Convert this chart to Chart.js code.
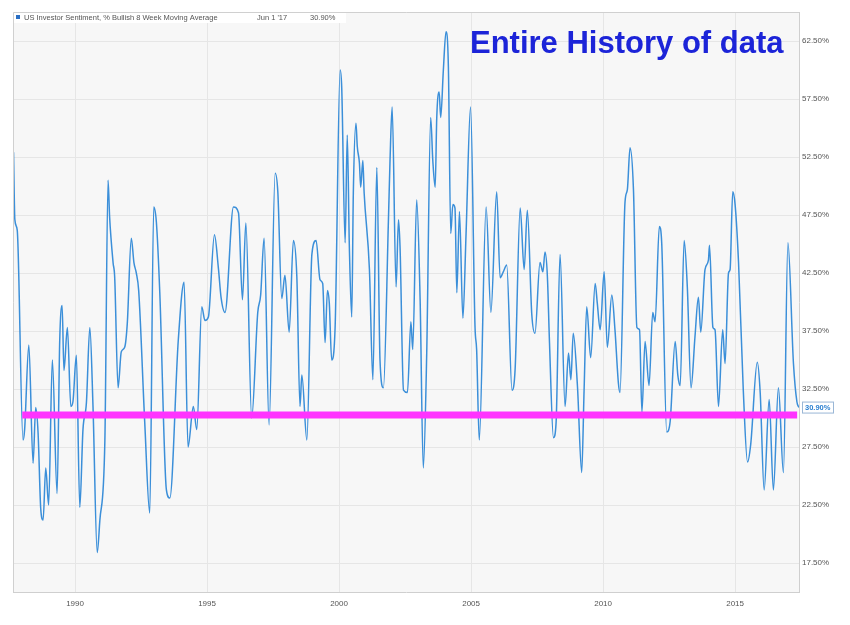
<!DOCTYPE html>
<html>
<head>
<meta charset="utf-8">
<script src="https://cdn.jsdelivr.net/npm/chart.js@4.4.1/dist/chart.umd.min.js"></script>
<style>
  html, body { margin: 0; padding: 0; background: #fff; }
  #wrap { width: 850px; height: 625px; }
</style>
</head>
<body>
<div id="wrap"><canvas id="chart" width="850" height="625"></canvas></div>
<script>
const seriesName = "US Investor Sentiment, % Bullish 8 Week Moving Average";
const lastDateLabel = "Jun 1 '17";
const lastValue = 30.90;
const chartTitle = "Entire History of data";

const yearTicks = [1990, 1995, 2000, 2005, 2010, 2015];
const percentTicks = [17.5, 22.5, 27.5, 32.5, 37.5, 42.5, 47.5, 52.5, 57.5, 62.5];

// decimal years and % bullish
const years = [
  1987.67, 1987.72, 1987.81, 1988.03, 1988.09, 1988.25, 1988.41, 1988.51, 1988.60, 1988.70,
  1988.79, 1988.89, 1989.00, 1989.14, 1989.32, 1989.42, 1989.51, 1989.58, 1989.71, 1989.84,
  1989.92, 1990.05, 1990.18, 1990.30, 1990.43, 1990.56, 1990.68, 1990.84, 1990.94, 1991.13,
  1991.25, 1991.31, 1991.44, 1991.50, 1991.63, 1991.75, 1991.88, 1991.98, 1992.13, 1992.23,
  1992.32, 1992.41, 1992.64, 1992.83, 1992.98, 1993.08, 1993.21, 1993.46, 1993.59, 1993.91,
  1994.13, 1994.28, 1994.48, 1994.61, 1994.80, 1994.92, 1995.05, 1995.28, 1995.43, 1995.53,
  1995.68, 1996.00, 1996.19, 1996.34, 1996.47, 1996.69, 1996.92, 1997.03, 1997.16, 1997.35,
  1997.58, 1997.68, 1997.83, 1997.95, 1998.11, 1998.27, 1998.40, 1998.52, 1998.59, 1998.78,
  1998.97, 1999.13, 1999.28, 1999.38, 1999.47, 1999.56, 1999.63, 1999.72, 1999.85, 2000.04,
  2000.10, 2000.23, 2000.31, 2000.39, 2000.48, 2000.54, 2000.64, 2000.69, 2000.77, 2000.82,
  2000.90, 2000.95, 2001.15, 2001.28, 2001.43, 2001.55, 2001.68, 2001.87, 2001.93, 2002.01,
  2002.16, 2002.25, 2002.31, 2002.44, 2002.59, 2002.72, 2002.79, 2002.94, 2003.07, 2003.19,
  2003.32, 2003.47, 2003.55, 2003.64, 2003.70, 2003.79, 2003.85, 2003.95, 2004.05, 2004.14,
  2004.23, 2004.31, 2004.39, 2004.46, 2004.56, 2004.69, 2004.81, 2004.98, 2005.15, 2005.21,
  2005.31, 2005.57, 2005.75, 2005.97, 2006.10, 2006.22, 2006.35, 2006.55, 2006.67, 2006.86,
  2007.01, 2007.13, 2007.30, 2007.42, 2007.61, 2007.72, 2007.80, 2007.89, 2007.97, 2008.12,
  2008.22, 2008.37, 2008.56, 2008.69, 2008.78, 2008.87, 2009.03, 2009.19, 2009.28, 2009.38,
  2009.53, 2009.70, 2009.78, 2009.89, 2010.04, 2010.16, 2010.33, 2010.45, 2010.58, 2010.64,
  2010.83, 2010.92, 2011.02, 2011.15, 2011.28, 2011.38, 2011.47, 2011.59, 2011.74, 2011.88,
  2011.97, 2012.13, 2012.22, 2012.41, 2012.54, 2012.73, 2012.83, 2012.92, 2013.07, 2013.19,
  2013.33, 2013.48, 2013.61, 2013.70, 2013.86, 2013.99, 2014.03, 2014.16, 2014.24, 2014.37,
  2014.53, 2014.62, 2014.75, 2014.81, 2014.91, 2015.00, 2015.13, 2015.31, 2015.47, 2015.59,
  2015.84, 2015.95, 2016.10, 2016.29, 2016.45, 2016.64, 2016.83, 2017.00, 2017.21, 2017.34,
  2017.42
];
const bullish = [
  52.9, 47.1, 46.2, 28.1, 29.0, 36.3, 26.1, 30.9, 28.7, 22.2,
  21.2, 25.7, 22.5, 35.0, 23.5, 36.7, 39.7, 34.1, 37.8, 31.0,
  31.4, 35.4, 22.3, 29.0, 31.3, 37.8, 31.0, 18.4, 21.2, 28.1,
  50.5, 47.3, 43.4, 42.2, 32.6, 35.7, 36.1, 38.2, 45.5, 43.4,
  42.5, 41.0, 29.6, 21.8, 48.2, 46.9, 40.8, 23.8, 23.1, 36.7,
  41.7, 27.5, 31.0, 29.0, 39.6, 38.4, 38.7, 45.8, 42.9, 40.4,
  39.1, 48.2, 47.7, 40.2, 46.8, 30.0, 39.1, 40.6, 45.5, 29.4,
  51.1, 49.5, 40.3, 42.3, 37.4, 45.3, 42.2, 31.0, 33.7, 28.1,
  44.1, 45.3, 41.9, 41.6, 36.5, 41.0, 39.9, 35.0, 37.8, 60.0,
  58.5, 45.1, 54.4, 44.7, 38.7, 49.4, 55.4, 53.4, 52.0, 49.9,
  52.2, 49.4, 42.8, 33.3, 51.6, 35.0, 32.6, 47.1, 52.2, 56.8,
  41.3, 47.1, 44.7, 32.4, 32.2, 38.3, 35.9, 48.8, 40.2, 25.7,
  35.6, 55.9, 52.2, 49.9, 55.9, 58.1, 55.9, 60.0, 63.3, 60.3,
  45.9, 48.4, 48.1, 40.8, 47.8, 38.6, 45.9, 56.8, 37.8, 35.9,
  28.1, 48.2, 39.1, 49.5, 42.1, 42.6, 43.2, 32.4, 34.3, 48.1,
  42.8, 47.9, 38.9, 37.3, 43.4, 42.6, 44.3, 42.2, 36.5, 28.3,
  29.6, 44.1, 31.0, 35.6, 33.3, 37.3, 32.7, 25.3, 32.4, 39.6,
  35.2, 41.6, 39.9, 37.6, 42.6, 36.1, 40.6, 37.6, 33.0, 32.2,
  48.6, 49.7, 53.3, 49.7, 37.8, 37.6, 30.5, 36.6, 32.8, 39.1,
  38.3, 46.5, 45.1, 28.8, 29.7, 36.6, 33.7, 32.8, 45.3, 41.3,
  32.6, 37.0, 40.4, 37.4, 42.8, 43.6, 44.9, 37.8, 37.6, 31.0,
  37.6, 34.7, 42.5, 42.8, 49.5, 48.4, 43.4, 32.4, 26.2, 27.7,
  34.8, 32.2, 23.8, 31.6, 23.8, 32.6, 25.3, 45.1, 34.7, 31.4,
  30.9
];

// hand-drawn magenta level line
const markerLevel = 30.25;
const markerYears = [1988.0, 2017.35];

const blue = "#3b8fd9";
const magenta = "#ff33ff";
const fontFamily = "'Liberation Sans', Arial, Helvetica, sans-serif";

const framePlugin = {
  id: "frame",
  beforeDraw(chart) {
    const { ctx, chartArea: a } = chart;
    ctx.save();
    ctx.fillStyle = "#f7f7f7";
    ctx.fillRect(a.left, a.top, a.right - a.left, a.bottom - a.top);
    ctx.restore();
  },
  afterDraw(chart) {
    const { ctx, chartArea: a } = chart;
    ctx.save();
    // frame left / top
    ctx.strokeStyle = "#d0d0d0";
    ctx.lineWidth = 1;
    ctx.beginPath();
    ctx.moveTo(a.left + 0.5, a.bottom);
    ctx.lineTo(a.left + 0.5, a.top + 0.5);
    ctx.lineTo(a.right, a.top + 0.5);
    ctx.stroke();

    // legend strip
    ctx.fillStyle = "#ffffff";
    ctx.fillRect(a.left + 1, a.top + 1, 332, 10);
    ctx.fillStyle = "#2a6fc4";
    ctx.fillRect(a.left + 3, a.top + 3, 4, 4);
    ctx.fillStyle = "#555";
    ctx.font = "7.5px " + fontFamily;
    ctx.textBaseline = "middle";
    ctx.fillText(seriesName, a.left + 11, a.top + 5.5);
    ctx.fillText(lastDateLabel, 257, a.top + 5.5);
    ctx.fillText(lastValue.toFixed(2) + "%", 310, a.top + 5.5);

    // title
    ctx.fillStyle = "#1c24d8";
    ctx.font = "bold 31px " + fontFamily;
    ctx.textBaseline = "alphabetic";
    ctx.fillText(chartTitle, 470, 53);

    // last value box on the axis
    const yPix = chart.scales.y.getPixelForValue(lastValue);
    ctx.fillStyle = "#ffffff";
    ctx.fillRect(a.right + 3, yPix - 5.5, 31, 11);
    ctx.strokeStyle = "#9ab7d6";
    ctx.strokeRect(a.right + 3.5, yPix - 5.5, 31, 11);
    ctx.fillStyle = "#2a7fd0";
    ctx.font = "bold 7.5px " + fontFamily;
    ctx.textBaseline = "middle";
    ctx.fillText(lastValue.toFixed(2) + "%", a.right + 6, yPix);
    ctx.restore();
  }
};

const sentimentPoints = years.map((yr, i) => ({ x: yr, y: bullish[i] }));
const markerPoints = markerYears.map((yr) => ({ x: yr, y: markerLevel }));

new Chart(document.getElementById("chart"), {
  type: "line",
  data: {
    datasets: [
      {
        data: markerPoints,
        borderColor: magenta,
        borderWidth: 7,
        pointRadius: 0,
        borderCapStyle: "butt",
      },
      {
        data: sentimentPoints,
        borderColor: blue,
        borderWidth: 1.5,
        pointRadius: 0,
        cubicInterpolationMode: "monotone",
      },
    ],
  },
  options: {
    responsive: false,
    animation: false,
    layout: { padding: { left: 13, top: 12, right: 0, bottom: 0 } },
    plugins: {
      legend: { display: false },
      tooltip: { enabled: false },
    },
    scales: {
      x: {
        type: "linear",
        min: 1987.65,
        max: 2017.42,
        afterBuildTicks: (axis) => { axis.ticks = yearTicks.map((v) => ({ value: v })); },
        afterFit: (axis) => { axis.height = 33; },
        grid: { color: "#e6e6e6", drawTicks: false },
        border: { color: "#cfcfcf" },
        ticks: {
          autoSkip: false,
          maxRotation: 0,
          padding: 7,
          color: "#555",
          font: { size: 8, family: fontFamily },
          callback: (v) => String(v),
        },
      },
      y: {
        position: "right",
        min: 15,
        max: 65,
        afterBuildTicks: (axis) => { axis.ticks = percentTicks.map((v) => ({ value: v })); },
        afterFit: (axis) => { axis.width = 51; },
        grid: { color: "#e6e6e6", drawTicks: false },
        border: { color: "#cfcfcf" },
        ticks: {
          padding: 3,
          color: "#555",
          font: { size: 8, family: fontFamily },
          callback: (v) => v.toFixed(2) + "%",
        },
      },
    },
  },
  plugins: [framePlugin],
});
</script>
</body>
</html>
